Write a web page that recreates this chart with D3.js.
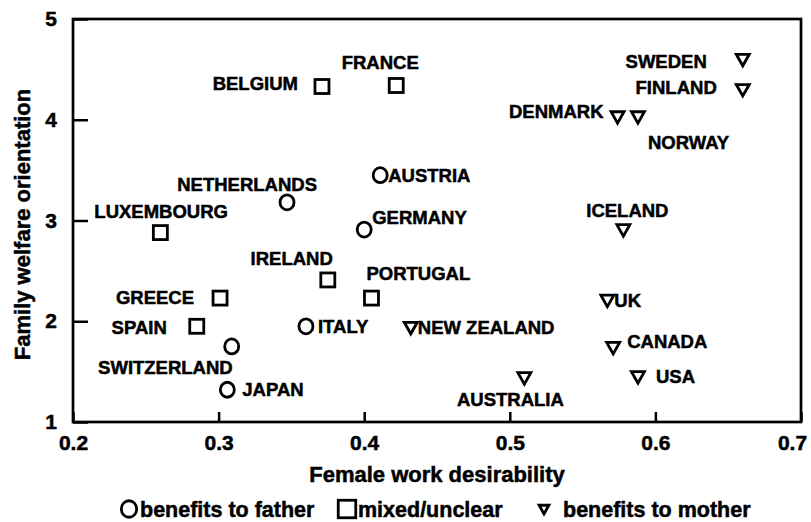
<!DOCTYPE html>
<html>
<head>
<meta charset="utf-8">
<script src="https://cdn.jsdelivr.net/npm/d3@7"></script>
<style>
  body { margin: 0; background: #ffffff; }
  svg { display: block; }
  text { font-family: 'Liberation Sans', Arial, sans-serif; font-weight: bold; fill: #000; stroke: #000; stroke-width: 0.5px; }
</style>
</head>
<body>
<svg id="chart" width="811" height="522"></svg>
<script>
// values
const countries = ['BELGIUM', 'FRANCE', 'NETHERLANDS', 'LUXEMBOURG', 'AUSTRIA', 'GERMANY',
  'SWEDEN', 'FINLAND', 'DENMARK', 'NORWAY', 'ICELAND', 'IRELAND', 'PORTUGAL', 'GREECE',
  'SPAIN', 'SWITZERLAND', 'JAPAN', 'ITALY', 'NEW ZEALAND', 'UK', 'CANADA', 'USA', 'AUSTRALIA'];
const desirability = [0.371, 0.422, 0.347, 0.260, 0.411, 0.400,
  0.660, 0.660, 0.574, 0.588, 0.578, 0.375, 0.405, 0.301,
  0.285, 0.309, 0.306, 0.360, 0.432, 0.567, 0.571, 0.588, 0.510];
const welfare = [4.33, 4.34, 3.18, 2.88, 3.45, 2.91,
  4.60, 4.30, 4.03, 4.03, 2.91, 2.41, 2.23, 2.23,
  1.95, 1.75, 1.32, 1.95, 1.94, 2.21, 1.74, 1.45, 1.44];
const groups = ['mixed', 'mixed', 'father', 'mixed', 'father', 'father',
  'mother', 'mother', 'mother', 'mother', 'mother', 'mixed', 'mixed', 'mixed',
  'mixed', 'father', 'father', 'father', 'mother', 'mother', 'mother', 'mother', 'mother'];

const xTicks = [0.2, 0.3, 0.4, 0.5, 0.6, 0.7];
const yTicks = [1, 2, 3, 4, 5];
const legendKeys = ['father', 'mixed', 'mother'];
const legendLabels = ['benefits to father', 'mixed/unclear', 'benefits to mother'];

// label placement next to each marker: [dx, dy, anchor]
const labelPos = [[-24, -3, 'end'], [-16, -23, 'middle'], [30, -18, 'end'], [-66, -21, 'start'],
  [8, 0, 'start'], [8, -12, 'start'], [-36, 2, 'end'], [-26, -2, 'end'], [-14, -5, 'end'],
  [10, 26, 'start'], [4, -19, 'middle'], [5, -21, 'end'], [-5, -25, 'start'], [-26, -1, 'end'],
  [-30, 1, 'end'], [1, 21, 'end'], [15, 0, 'start'], [12, 0, 'start'], [7, 0, 'start'],
  [7, 0, 'start'], [14, -6, 'start'], [18, 0, 'start'], [-14, 22, 'middle']];
const legendX = [129, 347, 544];

const margin = { top: 19, right: 10, bottom: 100, left: 73 };
const width = 811;
const height = 522;

const x = d3.scaleLinear().domain([0.2, 0.7]).range([margin.left, width - margin.right]);
const y = d3.scaleLinear().domain([1, 5]).range([height - margin.bottom, margin.top]);

const svg = d3.select('#chart');

const data = countries.map((c, i) => ({
  name: c, x: desirability[i], y: welfare[i], group: groups[i], pos: labelPos[i],
}));

function drawMarker(g, group, size) {
  const s = size || 1;
  if (group === 'father') {
    g.append('ellipse').attr('rx', 7 * s).attr('ry', 7.5 * s);
  } else if (group === 'mixed') {
    g.append('rect').attr('x', -7 * s).attr('y', -7 * s).attr('width', 14 * s).attr('height', 14 * s);
  } else {
    g.append('path').attr('d', `M${-6.5 * s},${-5 * s}L${6.5 * s},${-5 * s}L0,${6.5 * s}Z`);
  }
  g.selectAll('*')
    .attr('fill', 'none')
    .attr('stroke', '#000')
    .attr('stroke-width', 2.8)
    .attr('stroke-linejoin', 'miter');
}

// axes
svg.append('g')
  .attr('transform', `translate(0,${height - margin.bottom})`)
  .call(d3.axisBottom(x).tickValues(xTicks).tickFormat(d3.format('.1f')).tickSize(-10).tickPadding(13))
  .call((g) => g.select('.domain').remove())
  .call((g) => g.selectAll('.tick line').attr('stroke-width', 2.5))
  .call((g) => g.selectAll('.tick text')
    .attr('font-size', 21)
    .attr('font-family', "'Liberation Sans', Arial, sans-serif")
    .attr('font-weight', 'bold')
    .attr('dx', (d) => (d === 0.7 ? -9 : 0)));

svg.append('g')
  .attr('transform', `translate(${margin.left},0)`)
  .call(d3.axisLeft(y).tickValues(yTicks).tickFormat(d3.format('d')).tickSize(-15).tickPadding(16))
  .call((g) => g.select('.domain').remove())
  .call((g) => g.selectAll('.tick line').attr('stroke-width', 2.5))
  .call((g) => g.selectAll('.tick text')
    .attr('font-size', 21)
    .attr('font-family', "'Liberation Sans', Arial, sans-serif")
    .attr('font-weight', 'bold'));

// frame
svg.append('rect')
  .attr('x', x(0.2))
  .attr('y', y(5))
  .attr('width', x(0.7) - x(0.2))
  .attr('height', y(1) - y(5))
  .attr('fill', 'none')
  .attr('stroke', '#000')
  .attr('stroke-width', 2.7);

// points
const pts = svg.append('g')
  .selectAll('g')
  .data(data)
  .join('g')
  .attr('transform', (d) => `translate(${x(d.x)},${y(d.y)})`);

pts.each(function (d) { drawMarker(d3.select(this), d.group); });

pts.append('text')
  .attr('x', (d) => d.pos[0])
  .attr('y', (d) => d.pos[1])
  .attr('dy', '0.35em')
  .attr('text-anchor', (d) => d.pos[2])
  .attr('font-size', 18.5)
  .text((d) => d.name);

// axis titles
svg.append('text')
  .attr('x', (x(0.2) + x(0.7)) / 2)
  .attr('y', 482)
  .attr('text-anchor', 'middle')
  .attr('font-size', 22)
  .text('Female work desirability');

svg.append('text')
  .attr('transform', `translate(30,${(y(1) + y(5)) / 2 + 4}) rotate(-90)`)
  .attr('text-anchor', 'middle')
  .attr('font-size', 22)
  .text('Family welfare orientation');

// legend
const legend = svg.append('g')
  .selectAll('g')
  .data(legendKeys)
  .join('g')
  .attr('transform', (d, i) => `translate(${legendX[i]},509)`);

legend.each(function (d) { drawMarker(d3.select(this), d, d === 'mother' ? 0.75 : (d === 'father' ? 1.1 : 1.25)); });

legend.append('text')
  .attr('x', (d) => (d === 'mother' ? 19 : 11))
  .attr('y', 8)
  .attr('font-size', 21.5)
  .text((d, i) => legendLabels[i]);
</script>
</body>
</html>
